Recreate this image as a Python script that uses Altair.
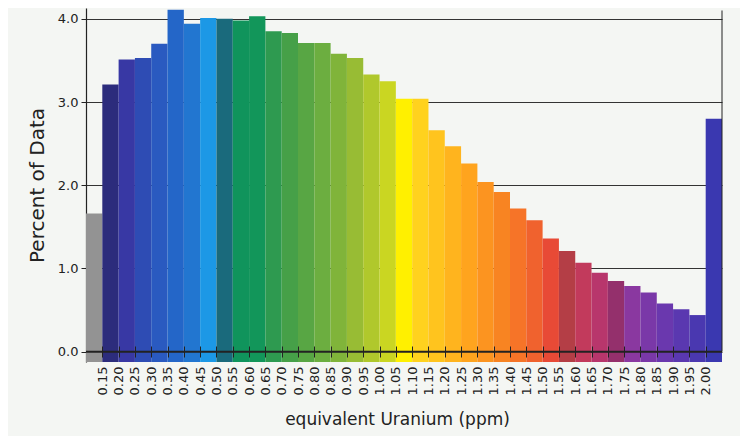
import altair as alt
import pandas as pd

bin_start = [0.10, 0.15, 0.20, 0.25, 0.30, 0.35, 0.40, 0.45, 0.50, 0.55,
             0.60, 0.65, 0.70, 0.75, 0.80, 0.85, 0.90, 0.95, 1.00, 1.05,
             1.10, 1.15, 1.20, 1.25, 1.30, 1.35, 1.40, 1.45, 1.50, 1.55,
             1.60, 1.65, 1.70, 1.75, 1.80, 1.85, 1.90, 1.95, 2.00]
bin_end = [0.15, 0.20, 0.25, 0.30, 0.35, 0.40, 0.45, 0.50, 0.55, 0.60,
           0.65, 0.70, 0.75, 0.80, 0.85, 0.90, 0.95, 1.00, 1.05, 1.10,
           1.15, 1.20, 1.25, 1.30, 1.35, 1.40, 1.45, 1.50, 1.55, 1.60,
           1.65, 1.70, 1.75, 1.80, 1.85, 1.90, 1.95, 2.00, 2.05]
percent = [1.66, 3.21, 3.51, 3.53, 3.70, 4.11, 3.94, 4.01, 4.00, 3.98,
           4.03, 3.85, 3.83, 3.71, 3.71, 3.58, 3.53, 3.33, 3.25, 3.04,
           3.04, 2.66, 2.47, 2.26, 2.04, 1.92, 1.72, 1.58, 1.36, 1.21,
           1.07, 0.95, 0.85, 0.79, 0.71, 0.58, 0.51, 0.44, 2.80]
bar_colors = ["#939393", "#2c2c7c", "#3838a4", "#2e4cb4", "#2a5ac0", "#2466c8",
              "#2276d0", "#1c98e6", "#1a6a7c", "#10945c", "#12965a", "#2e9a50",
              "#46a048", "#58a644", "#6cae40", "#80b43a", "#98bc34", "#b0c82c",
              "#cad622", "#fff000", "#ffd21e", "#ffc41e", "#ffb41e", "#ffa41e",
              "#fc9420", "#f88422", "#f67428", "#f0622e", "#e84a36", "#b43e46",
              "#c23a5c", "#b8366c", "#94306c", "#8a38a0", "#7a38a8", "#6a38ae",
              "#5a38b0", "#4a38b0", "#3a38b0"]
x_ticks = [0.15, 0.20, 0.25, 0.30, 0.35, 0.40, 0.45, 0.50, 0.55, 0.60,
           0.65, 0.70, 0.75, 0.80, 0.85, 0.90, 0.95, 1.00, 1.05, 1.10,
           1.15, 1.20, 1.25, 1.30, 1.35, 1.40, 1.45, 1.50, 1.55, 1.60,
           1.65, 1.70, 1.75, 1.80, 1.85, 1.90, 1.95, 2.00]
y_ticks = [0.0, 1.0, 2.0, 3.0, 4.0]

df = pd.DataFrame({"lo": bin_start, "hi": bin_end, "pct": percent, "color": bar_colors})

FONT = "DejaVu Sans"
INK = "#222222"
x_scale = alt.Scale(domain=[0.10, 2.05], nice=False, zero=False)
y_scale = alt.Scale(domain=[-0.124, 4.13], nice=False, zero=False)

x_axis = alt.Axis(values=x_ticks, format=".2f", labelAngle=-90, offset=-16,
                  tickSize=11, tickColor=INK, tickWidth=1, domain=False, grid=False,
                  zindex=1, labelPadding=9, labelFont=FONT, labelFontSize=13,
                  labelColor=INK, labelOverlap=False, labelSeparation=0,
                  labelFlush=False, title="equivalent Uranium (ppm)",
                  titleFont=FONT, titleFontSize=17, titleFontWeight="normal",
                  titleColor=INK, titlePadding=17, titleX=311)
y_axis = alt.Axis(values=y_ticks, format=".1f", grid=True, gridColor="#333333",
                  gridWidth=1, domain=True, domainColor=INK, domainWidth=1.2,
                  tickSize=5, tickColor=INK, labelPadding=3, labelFont=FONT,
                  labelFontSize=13, labelColor=INK, labelOverlap=False,
                  labelFlush=False, title="Percent of Data",
                  titleFont=FONT, titleFontSize=20, titleFontWeight="normal",
                  titleColor=INK, titlePadding=10)

bars = alt.Chart(df).mark_rect(strokeWidth=0).encode(
    x=alt.X("lo:Q", scale=x_scale, axis=x_axis),
    x2="hi:Q",
    y=alt.Y("pct:Q", scale=y_scale, axis=y_axis),
    y2=alt.datum(-0.124),
    color=alt.Color("color:N", scale=None),
)

zero_line = alt.Chart(pd.DataFrame({"v": [0.0]})).mark_rule(color=INK, strokeWidth=2).encode(
    y=alt.Y("v:Q", scale=y_scale, axis=y_axis)
)

right_border = alt.Chart(pd.DataFrame({"v": [2.05], "a": [0.0], "b": [4.1]})).mark_rule(
    color=INK, strokeWidth=1).encode(
    x=alt.X("v:Q", scale=x_scale, axis=x_axis),
    y=alt.Y("a:Q", scale=y_scale, axis=y_axis),
    y2="b:Q",
)

chart = alt.layer(bars, zero_line, right_border).properties(
    width=636,
    height=354,
    autosize=alt.AutoSizeParams(type="none"),
    padding={"left": 78, "top": 0, "right": 18, "bottom": 74},
    background="#f4f6f3",
).configure_view(stroke=None).configure_axis(labelOverlap=False)

chart.save("out.html", embed_options={"renderer": "svg", "actions": False})
